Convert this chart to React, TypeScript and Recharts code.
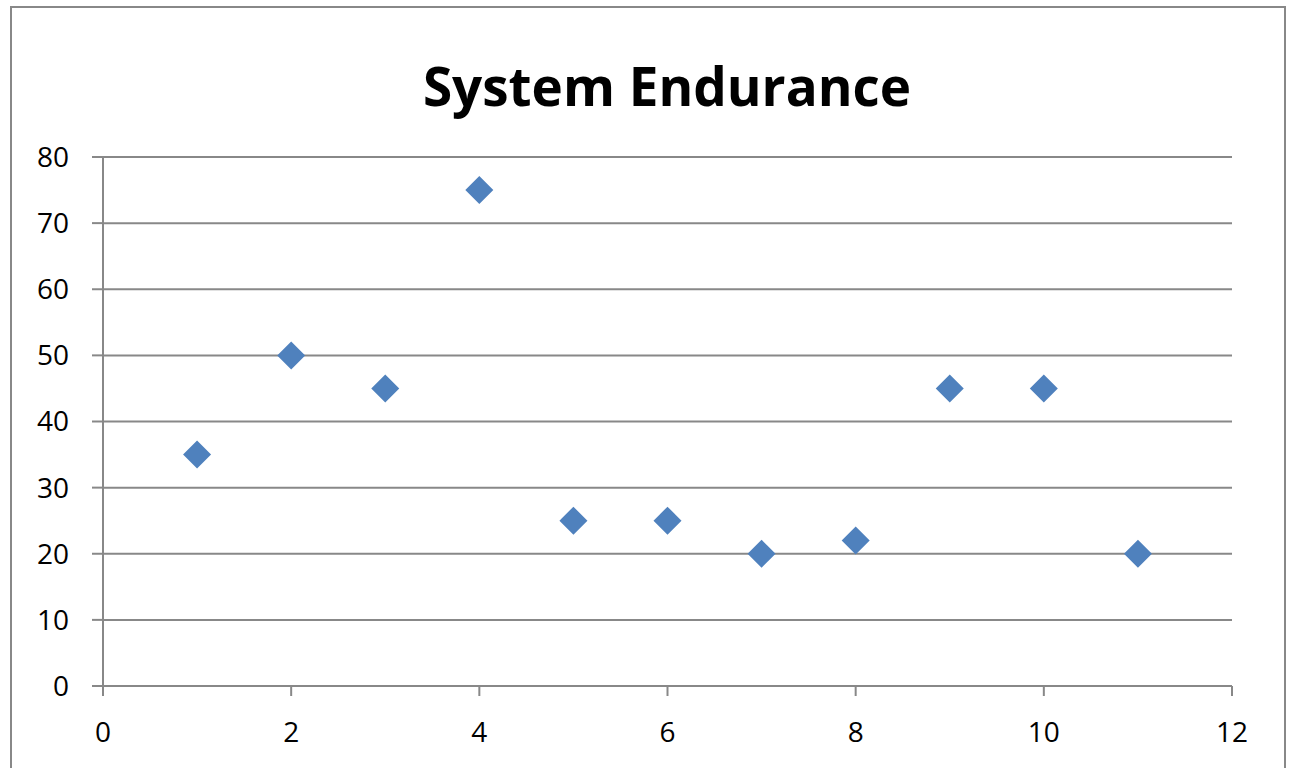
import React from "react";
import { ScatterChart, Scatter, XAxis, YAxis, CartesianGrid } from "recharts";

const xValues = [1, 2, 3, 4, 5, 6, 7, 8, 9, 10, 11];
const yValues = [35, 50, 45, 75, 25, 25, 20, 22, 45, 45, 20];
const xTicks = [0, 2, 4, 6, 8, 10, 12];
const yTicks = [0, 10, 20, 30, 40, 50, 60, 70, 80];
const title = "System Endurance";

const data = xValues.map((x, i) => ({ x, y: yValues[i] }));

const GRID = "#888888";
const FONT = "'Open Sans', sans-serif";

const Diamond = (props: any) => {
  const { cx, cy } = props;
  const r = 14;
  return (
    <polygon
      points={`${cx},${cy - r} ${cx + r},${cy} ${cx},${cy + r} ${cx - r},${cy}`}
      fill="#4F81BD"
    />
  );
};

export default function App() {
  return (
    <div style={{ position: "absolute", left: 0, top: 0, width: 1298, height: 768, background: "#fff", overflow: "hidden" }}>
      <div
        style={{
          position: "absolute",
          left: 10,
          top: 6,
          width: 1276,
          height: 800,
          borderLeft: `2px solid ${GRID}`,
          borderTop: `2px solid ${GRID}`,
          borderRight: `2px solid ${GRID}`,
          boxSizing: "border-box",
        }}
      />
      <div
        style={{
          position: "absolute",
          left: 0,
          width: 1334,
          top: 50,
          textAlign: "center",
          fontFamily: FONT,
          fontWeight: 700,
          fontSize: 53,
          lineHeight: "72px",
          color: "#000",
        }}
      >
        {title}
      </div>
      <div style={{ position: "absolute", left: 0, top: 0 }}>
        <ScatterChart width={1298} height={768} margin={{ top: 157, right: 66, left: 0, bottom: 0 }}>
          <CartesianGrid horizontal={true} vertical={false} stroke={GRID} strokeWidth={2} />
          <XAxis
            type="number"
            dataKey="x"
            domain={[0, 12]}
            ticks={xTicks}
            height={82}
            axisLine={{ stroke: GRID, strokeWidth: 2 }}
            tickLine={{ stroke: GRID, strokeWidth: 2 }}
            tickSize={10}
            tickMargin={26}
            tick={{ fill: "#000", fontSize: 28, fontFamily: FONT }}
            interval={0}
          />
          <YAxis
            type="number"
            dataKey="y"
            domain={[0, 80]}
            ticks={yTicks}
            width={103}
            axisLine={{ stroke: GRID, strokeWidth: 2 }}
            tickLine={{ stroke: GRID, strokeWidth: 2 }}
            tickSize={11}
            tickMargin={23}
            tick={{ fill: "#000", fontSize: 28, fontFamily: FONT }}
            interval={0}
          />
          <Scatter data={data} shape={<Diamond />} isAnimationActive={false} />
        </ScatterChart>
      </div>
    </div>
  );
}
